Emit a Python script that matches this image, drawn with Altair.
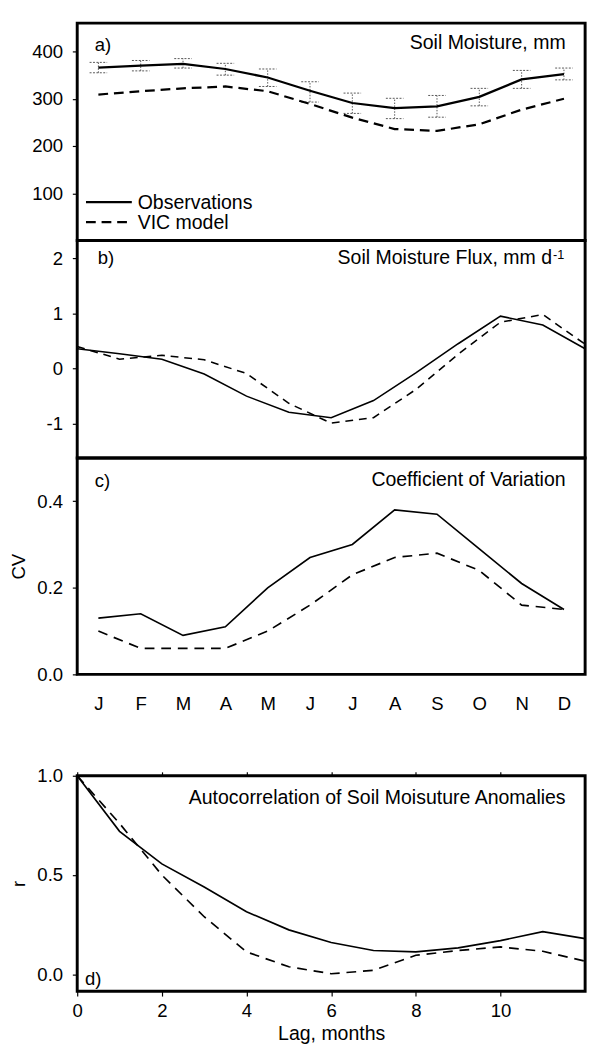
import altair as alt
import pandas as pd

# ---------------- data ----------------
months = ["J", "F", "M", "A", "M", "J", "J", "A", "S", "O", "N", "D"]
month_pos = [0, 1, 2, 3, 4, 5, 6, 7, 8, 9, 10, 11]

# a) soil moisture, mm
sm_obs = [366, 370, 374, 363, 345, 317, 291, 280, 284, 304, 341, 352]
sm_obs_hi = [377, 381, 385, 375, 363, 336, 312, 301, 307, 322, 360, 365]
sm_obs_lo = [355, 359, 365, 350, 326, 293, 269, 258, 261, 285, 322, 340]
sm_vic = [309, 316, 322, 326, 316, 289, 260, 236, 232, 246, 277, 300]

# b) soil moisture flux, mm/d (plotted at month boundaries)
flux_pos = [-0.5, 0.5, 1.5, 2.5, 3.5, 4.5, 5.5, 6.5, 7.5, 8.5, 9.5, 10.5, 11.5]
flux_obs = [0.36, 0.27, 0.17, -0.10, -0.50, -0.79, -0.89, -0.58, -0.08, 0.45, 0.95, 0.79, 0.36]
flux_vic = [0.40, 0.17, 0.24, 0.16, -0.09, -0.63, -0.99, -0.89, -0.38, 0.26, 0.84, 0.98, 0.44]

# c) coefficient of variation
cv_obs = [0.13, 0.14, 0.09, 0.11, 0.20, 0.27, 0.30, 0.38, 0.37, 0.29, 0.21, 0.15]
cv_vic = [0.10, 0.06, 0.06, 0.06, 0.10, 0.16, 0.23, 0.27, 0.28, 0.24, 0.16, 0.15]

# d) autocorrelation
lags = [0, 1, 2, 3, 4, 5, 6, 7, 8, 9, 10, 11, 12]
ac_obs = [1.0, 0.72, 0.556, 0.44, 0.315, 0.224, 0.16, 0.12, 0.113, 0.133, 0.17, 0.215, 0.18]
ac_vic = [1.0, 0.76, 0.50, 0.29, 0.113, 0.038, 0.003, 0.02, 0.096, 0.12, 0.138, 0.116, 0.066]

legend_labels = ["Observations", "VIC model"]
panel_titles = ["Soil Moisture, mm", "Soil Moisture Flux, mm d", "Coefficient of Variation",
                "Autocorrelation of Soil Moisuture Anomalies"]
panel_tags = ["a)", "b)", "c)", "d)"]

# ---------------- style ----------------
FONT = "Liberation Sans"
W = 521
HA, HB, HC, HD = 223, 223, 222, 221
TXT = 20
LBL = 19


def ann(text, x, y, size=TXT, align="left"):
    return alt.Chart(pd.DataFrame({"t": [text]})).mark_text(
        align=align, baseline="middle", font=FONT, fontSize=size, color="black"
    ).encode(x=alt.value(x), y=alt.value(y), text="t:N")


def yaxis(values, **kw):
    return alt.Axis(values=values, tickSize=5, labelPadding=10, minExtent=48, maxExtent=48,
                    labelFlush=False, domain=False, grid=False, titlePadding=2,
                    titleFontWeight="normal", **kw)


x_month = alt.X("m:Q", scale=alt.Scale(domain=[-0.5, 11.5], nice=False, zero=False),
                axis=None, title=None)

# ---------------- panel a ----------------
df_a = pd.DataFrame({"m": month_pos, "obs": sm_obs, "hi": sm_obs_hi, "lo": sm_obs_lo, "vic": sm_vic})
ya_scale = alt.Scale(domain=[0, 460], nice=False, zero=False)
base_a = alt.Chart(df_a)
err = base_a.mark_rule(color="#555555", strokeWidth=1, strokeDash=[1.5, 1.5]).encode(
    x=x_month,
    y=alt.Y("lo:Q", scale=ya_scale, axis=yaxis([100, 200, 300, 400]), title=None),
    y2=alt.Y2("hi"),
)
cap_hi = base_a.mark_rule(color="#555555", strokeWidth=1, strokeDash=[2, 1.5], xOffset=-9, x2Offset=9).encode(
    x=x_month, x2=alt.X2("m"), y=alt.Y("hi:Q", title=None))
cap_lo = base_a.mark_rule(color="#555555", strokeWidth=1, strokeDash=[2, 1.5], xOffset=-9, x2Offset=9).encode(
    x=x_month, x2=alt.X2("m"), y=alt.Y("lo:Q", title=None))
line_a_vic = base_a.mark_line(color="black", strokeWidth=2.3, strokeDash=[10, 6]).encode(
    x=x_month, y=alt.Y("vic:Q", title=None))
line_a_obs = base_a.mark_line(color="black", strokeWidth=2.3).encode(
    x=x_month, y=alt.Y("obs:Q", title=None))

one = pd.DataFrame({"k": [0]})
leg_obs = alt.Chart(one).mark_rule(color="black", strokeWidth=2.3).encode(
    x=alt.value(9), x2=alt.value(56), y=alt.value(183.5))
leg_vic = alt.Chart(one).mark_rule(color="black", strokeWidth=2.3, strokeDash=[10, 6]).encode(
    x=alt.value(9), x2=alt.value(56), y=alt.value(204))

panel_a = alt.layer(
    err, cap_hi, cap_lo, line_a_vic, line_a_obs, leg_obs, leg_vic,
    ann(legend_labels[0], 62, 184.5), ann(legend_labels[1], 62, 205),
    ann(panel_tags[0], 18, 22.5, size=LBL),
    ann(panel_titles[0], 501, 20.5, align="right"),
).properties(width=W, height=HA)

# ---------------- panel b ----------------
df_b = pd.DataFrame({"m": flux_pos, "obs": flux_obs, "vic": flux_vic})
base_b = alt.Chart(df_b)
line_b_obs = base_b.mark_line(color="black", strokeWidth=1.6).encode(
    x=x_month,
    y=alt.Y("obs:Q", scale=alt.Scale(domain=[-1.62, 2.32], nice=False, zero=False),
            axis=yaxis([-1, 0, 1, 2], labelExpr="'' + datum.value"), title=None))
line_b_vic = base_b.mark_line(color="black", strokeWidth=1.6, strokeDash=[8, 6]).encode(
    x=x_month, y=alt.Y("vic:Q", title=None))
panel_b = alt.layer(
    line_b_obs, line_b_vic,
    ann(panel_tags[1], 21, 18, size=LBL),
    ann(panel_titles[1], 487, 18.5, align="right"),
    ann("-1", 488, 15, size=13),
).properties(width=W, height=HB)

# ---------------- panel c ----------------
month_expr = "[" + ",".join("'%s'" % m for m in months) + "][datum.value]"
df_c = pd.DataFrame({"m": month_pos, "obs": cv_obs, "vic": cv_vic})
base_c = alt.Chart(df_c)
x_month_c = alt.X("m:Q", scale=alt.Scale(domain=[-0.5, 11.5], nice=False, zero=False),
                  axis=alt.Axis(values=month_pos, labelExpr=month_expr, ticks=False, tickSize=0,
                                labelPadding=21, domain=False, grid=False, labelFlush=False),
                  title=None)
line_c_obs = base_c.mark_line(color="black", strokeWidth=1.7).encode(
    x=x_month_c,
    y=alt.Y("obs:Q", scale=alt.Scale(domain=[0, 0.5], nice=False, zero=False),
            axis=yaxis([0, 0.2, 0.4], format=".1f"), title="CV"))
line_c_vic = base_c.mark_line(color="black", strokeWidth=1.7, strokeDash=[10, 7]).encode(
    x=alt.X("m:Q", title=None), y=alt.Y("vic:Q", title="CV"))
panel_c = alt.layer(
    line_c_obs, line_c_vic,
    ann(panel_tags[2], 18, 23.7, size=LBL),
    ann(panel_titles[2], 501, 23, align="right"),
).properties(width=W, height=HC)

# ---------------- panel d ----------------
df_d = pd.DataFrame({"lag": lags, "obs": ac_obs, "vic": ac_vic})
base_d = alt.Chart(df_d)
x_lag_scale = alt.Scale(domain=[0, 12], nice=False, zero=False)
line_d_obs = base_d.mark_line(color="black", strokeWidth=1.7).encode(
    x=alt.X("lag:Q", scale=x_lag_scale,
            axis=alt.Axis(values=[0, 2, 4, 6, 8, 10], tickSize=5, labelPadding=6, domain=False,
                          grid=False, labelFlush=False, titlePadding=4, titleFontSize=TXT,
                          titleFontWeight="normal"),
            title="Lag, months"),
    y=alt.Y("obs:Q", scale=alt.Scale(domain=[-0.085, 1.0], nice=False, zero=False),
            axis=yaxis([0, 0.5, 1.0], format=".1f"), title="r"))
line_d_vic = base_d.mark_line(color="black", strokeWidth=1.7, strokeDash=[10, 7]).encode(
    x=alt.X("lag:Q",
            axis=alt.Axis(orient="top", values=[0, 2, 4, 6, 8, 10], labels=False, tickSize=4,
                          domain=False, grid=False),
            title=None),
    y=alt.Y("vic:Q", title="r"))
panel_d = alt.layer(
    line_d_obs, line_d_vic,
    ann(panel_tags[3], 8, 208.5, size=LBL),
    ann(panel_titles[3], 501, 23, align="right"),
).resolve_axis(x="independent").properties(width=W, height=HD)

# ---------------- assemble ----------------
top = alt.vconcat(panel_a, panel_b, panel_c, spacing=0, bounds="flush")
chart = alt.vconcat(top, panel_d, spacing=51).properties(
    padding={"left": 0, "right": 0, "top": 0, "bottom": 0}
).configure(background="white", font=FONT).configure_view(
    stroke="black", strokeWidth=3
).configure_axis(
    labelFont=FONT, titleFont=FONT, labelFontSize=LBL, titleFontSize=LBL,
    labelColor="black", titleColor="black", tickColor="black", tickWidth=1.2,
)

chart.save("out.html", embed_options={"renderer": "svg", "actions": False})
